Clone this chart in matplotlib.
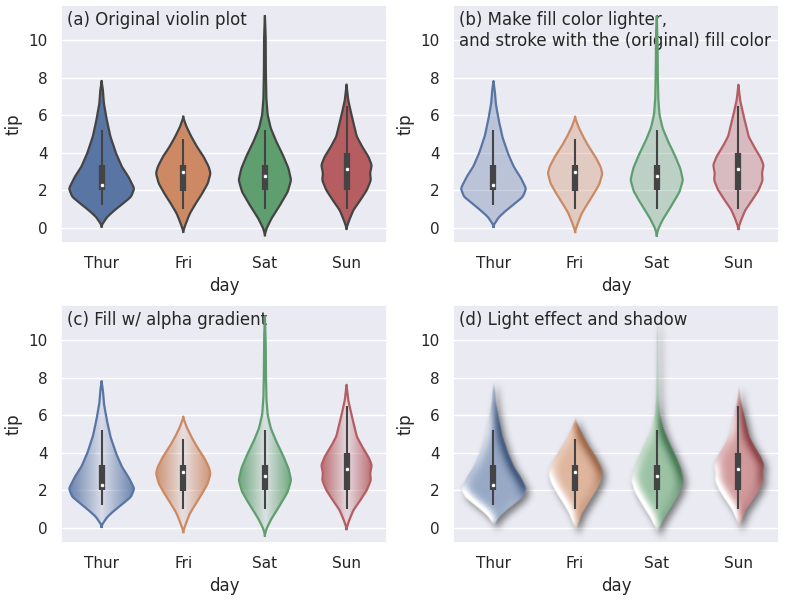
import colorsys
import numpy as np
import matplotlib
matplotlib.use('Agg')
import matplotlib.pyplot as plt
from matplotlib.colors import to_rgb

days = ['Thur', 'Fri', 'Sat', 'Sun']
colors = ['#4C72B0', '#DD8452', '#55A868', '#C44E52']

# violin outlines: tip level -> half width (px, 82 px per day)
thur_y = [0.14, 0.59, 0.95, 1.30, 1.66, 2.10, 2.73, 3.26, 3.98, 4.87, 5.76, 6.65, 7.36, 7.81]
thur_w = [0.0, 5.7, 13.3, 21.7, 30.0, 33.3, 27.3, 20.7, 14.7, 9.0, 5.3, 2.3, 1.3, 0.0]
fri_y = [-0.16, 0.24, 0.77, 1.30, 1.84, 2.37, 2.91, 3.26, 3.80, 4.33, 4.87, 5.40, 5.88]
fri_w = [0.0, 2.7, 6.7, 12.7, 19.3, 25.0, 27.8, 26.0, 20.7, 14.0, 8.2, 3.3, 0.0]
sat_y = [-0.35, -0.03, 0.50, 1.21, 1.93, 2.55, 3.18, 3.89, 4.60, 5.32, 6.03, 6.92, 8.34, 10.13, 11.37]
sat_w = [0.0, 1.7, 6.7, 15.3, 23.3, 26.7, 24.0, 18.3, 11.7, 6.0, 2.8, 1.5, 1.0, 0.8, 0.0]
sun_y = [0.00, 0.41, 0.95, 1.48, 2.02, 2.55, 2.91, 3.35, 3.80, 4.33, 4.87, 5.40, 6.12, 6.83, 7.63]
sun_w = [0.0, 2.7, 7.0, 14.0, 20.7, 24.8, 24.0, 25.7, 22.3, 16.0, 10.5, 8.0, 4.7, 1.7, 0.0]

# inner box: whiskers, quartiles, median
box_lo = [1.25, 1.00, 1.00, 1.01]
box_q1 = [2.00, 1.96, 2.00, 2.00]
box_med = [2.305, 3.00, 2.75, 3.15]
box_q3 = [3.3625, 3.365, 3.37, 4.00]
box_hi = [5.20, 4.73, 5.20, 6.50]

plt.rcParams.update({
    'axes.facecolor': '#EAEAF2', 'axes.edgecolor': 'white', 'axes.linewidth': 1.25,
    'axes.grid': True, 'axes.axisbelow': True, 'grid.color': 'white', 'grid.linewidth': 1,
    'axes.labelsize': 12, 'xtick.labelsize': 11, 'ytick.labelsize': 11, 'font.size': 12,
    'text.color': '.15', 'axes.labelcolor': '.15', 'xtick.color': '.15', 'ytick.color': '.15',
    'xtick.bottom': False, 'ytick.left': False,
    'xtick.major.size': 6, 'ytick.major.size': 6,
    'xtick.major.pad': 3.5, 'ytick.major.pad': 3.5,
})

XLIM = (-0.5, 3.5)
YLIM = (-0.8, 11.9)
gray = '#444444'

# violins use the palette at 75% saturation
def desat(c, p=0.75):
    h, l, s = colorsys.rgb_to_hls(*to_rgb(c))
    return colorsys.hls_to_rgb(h, l, s * p)

vcol = [desat(c) for c in colors]

# smooth half-width profile on a fine grid
yf = np.linspace(YLIM[0], YLIM[1], 2000)
dyf = yf[1] - yf[0]
allw = max(thur_w + fri_w + sat_w + sun_w)
scale = 0.4 / allw

def gauss(s):
    r = int(3 * s) + 1
    k = np.exp(-0.5 * (np.arange(-r, r + 1) / s) ** 2)
    return k / k.sum()

def half_width(ys, ws):
    w = np.interp(yf, ys, ws, left=0, right=0)
    w = np.convolve(w, gauss(0.07 / dyf), mode='same')
    w[w < 0.05] = 0
    return w * scale

hw = [half_width(y, w) for y, w in [(thur_y, thur_w), (fri_y, fri_w), (sat_y, sat_w), (sun_y, sun_w)]]
hwmax = np.array([h.max() for h in hw])

def outline(i):
    nz = hw[i] > 0
    yv = yf[nz]
    xs = np.concatenate([i - hw[i][nz], (i + hw[i][nz])[::-1]])
    ys = np.concatenate([yv, yv[::-1]])
    return xs, ys

def blur(a, s):
    k = gauss(s)
    a = np.apply_along_axis(lambda v: np.convolve(v, k, mode='same'), 0, a)
    a = np.apply_along_axis(lambda v: np.convolve(v, k, mode='same'), 1, a)
    return a

# pixel grid for the image based panels
nx, ny = 660, 480
px = (XLIM[1] - XLIM[0]) / nx
xc = XLIM[0] + (np.arange(nx) + 0.5) * px
yc = YLIM[0] + (np.arange(ny) + 0.5) * (YLIM[1] - YLIM[0]) / ny

def soft_mask(i):
    h = np.interp(yc, yf, hw[i])
    d = np.abs(xc[None, :] - i)
    m = np.clip((h[:, None] - d) / px + 0.5, 0, 1)
    m[h == 0] = 0
    return m

M = sum(soft_mask(i) for i in range(4))
idx = np.clip(np.round(xc).astype(int), 0, 3)
crgb = np.array(vcol)
RGB = np.broadcast_to(crgb[idx][None, :, :], (ny, nx, 3))

def draw_box(ax, i):
    ax.plot([i, i], [box_lo[i], box_hi[i]], color=gray, lw=1.5, zorder=4, solid_capstyle='butt')
    ax.plot([i, i], [box_q1[i], box_q3[i]], color=gray, lw=4.5, zorder=4, solid_capstyle='butt')
    ax.scatter([i], [box_med[i]], color='white', edgecolor=gray, s=9, lw=0.5, zorder=5)

fig, axes = plt.subplots(2, 2, figsize=(8, 6), dpi=100)
plt.subplots_adjust(left=0.076, right=0.974, bottom=0.095, top=0.992, wspace=0.2, hspace=0.26)
ext = (XLIM[0], XLIM[1], YLIM[0], YLIM[1])

# (a) original
ax = axes[0, 0]
for i in range(4):
    xs, ys = outline(i)
    ax.fill(xs, ys, facecolor=vcol[i], edgecolor=gray, lw=1.6, zorder=2)
    draw_box(ax, i)

# (b) lighter fill, coloured stroke
ax = axes[0, 1]
for i in range(4):
    xs, ys = outline(i)
    ax.fill(xs, ys, facecolor=vcol[i], alpha=0.33, lw=0, zorder=2)
    ax.plot(xs, ys, color=vcol[i], lw=1.6, zorder=3)
    draw_box(ax, i)

# (c) alpha gradient
ax = axes[1, 0]
dxn = np.clip(np.abs(xc - idx) / hwmax[idx], 0, 1)
alpha_c = M * (0.12 + 0.75 * dxn)[None, :]
img = np.dstack([RGB, alpha_c])
ax.imshow(img, extent=ext, origin='lower', interpolation='bilinear', aspect='auto', zorder=2)
for i in range(4):
    xs, ys = outline(i)
    ax.plot(xs, ys, color=vcol[i], lw=1.6, zorder=3)
    draw_box(ax, i)

# (d) light effect and shadow
ax = axes[1, 1]
H = blur(M, 10)
gy, gx = np.gradient(H)
s = np.clip((gx + gy) * 22, -1, 1)[:, :, None]
base = 0.62 * RGB + 0.38
dark = 0.8 * RGB
shade = np.where(s > 0, base + (1 - base) * s, base + (dark - base) * (-s))
alpha_d = M * np.clip(blur(M, 5) * 1.5, 0, 1)
sh = blur(M, 7)
sh = np.roll(np.roll(sh, 7, axis=1), -7, axis=0)
shadow = np.dstack([np.zeros((ny, nx, 3)), 0.5 * sh])
ax.imshow(shadow, extent=ext, origin='lower', interpolation='bilinear', aspect='auto', zorder=1.5)
ax.imshow(np.dstack([shade, alpha_d]), extent=ext, origin='lower', interpolation='bilinear', aspect='auto', zorder=2)
for i in range(4):
    draw_box(ax, i)

labels = ['(a) Original violin plot',
          '(b) Make fill color lighter,\nand stroke with the (original) fill color',
          '(c) Fill w/ alpha gradient',
          '(d) Light effect and shadow']
for ax, lab in zip(axes.flat, labels):
    ax.set_xlim(XLIM)
    ax.set_ylim(YLIM)
    ax.set_xticks(range(4))
    ax.set_xticklabels(days)
    ax.set_yticks([0, 2, 4, 6, 8, 10])
    ax.xaxis.grid(False)
    ax.set_xlabel('day')
    ax.set_ylabel('tip')
    ax.text(0.02, 0.975, lab, transform=ax.transAxes, va='top', ha='left', fontsize=12, zorder=1)

plt.savefig('out.png')
